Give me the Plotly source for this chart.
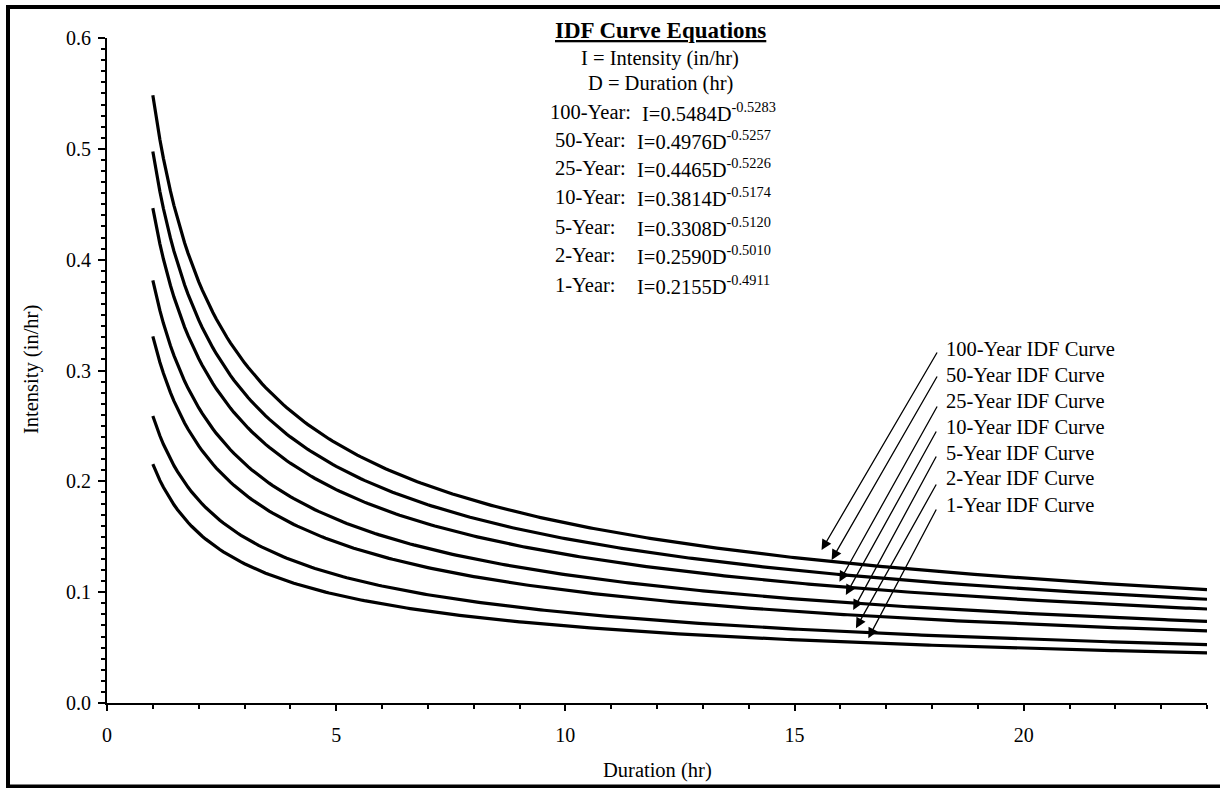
import numpy as np
import plotly.graph_objects as go

# Return periods and IDF equation coefficients (I = a * D^b), as printed on the chart
periods = ["100-Year", "50-Year", "25-Year", "10-Year", "5-Year", "2-Year", "1-Year"]
coef_a = [0.5484, 0.4976, 0.4465, 0.3814, 0.3308, 0.2590, 0.2155]
coef_b = [-0.5283, -0.5257, -0.5226, -0.5174, -0.5120, -0.5010, -0.4911]
coef_a_txt = ["0.5484", "0.4976", "0.4465", "0.3814", "0.3308", "0.2590", "0.2155"]
coef_b_txt = ["-0.5283", "-0.5257", "-0.5226", "-0.5174", "-0.5120", "-0.5010", "-0.4911"]

# Durations (hr) at which curves are evaluated
durations = np.linspace(1, 24, 300)

# Arrow tips (data coords)
tip_x = [15.59, 15.81, 15.98, 16.12, 16.28, 16.34, 16.61]
tip_y = [0.1380, 0.1290, 0.1095, 0.0974, 0.0839, 0.0674, 0.0584]
# Arrow tails (data coords)
tail_x = [18.13, 18.13, 18.13, 18.11, 18.11, 18.11, 18.11]
tail_y = [0.3176, 0.2959, 0.2689, 0.2463, 0.2238, 0.1985, 0.1759]
# Curve label positions (data coords)
lab_x = 18.26
lab_y = [0.3194, 0.2959, 0.2725, 0.2490, 0.2256, 0.2030, 0.1787]

FONT = "Liberation Serif"
TXT = 20.5
L, R, T, B = 107, 13, 38, 85
W, H = 1220, 788
PW, PH = W - L - R, H - T - B


def px2paper(px, py):
    return (px - L) / PW, (H - B - py) / PH


fig = go.Figure()
for p, a, b in zip(periods, coef_a, coef_b):
    fig.add_trace(go.Scatter(
        x=durations, y=a * durations ** b, mode="lines",
        line=dict(color="black", width=3.2), name=p + " IDF Curve",
        hoverinfo="x+y+name"))

annotations = []
for p, tx, ty, ax, ay, ly in zip(periods, tip_x, tip_y, tail_x, tail_y, lab_y):
    annotations.append(dict(
        x=tx, y=ty, ax=ax, ay=ay, xref="x", yref="y", axref="x", ayref="y",
        text="", showarrow=True, arrowhead=2, arrowsize=1.6, arrowwidth=1.3,
        arrowcolor="black", standoff=0))
    annotations.append(dict(
        x=lab_x, y=ly, xref="x", yref="y", text=p + " IDF Curve",
        showarrow=False, xanchor="left", yanchor="middle",
        font=dict(family=FONT, size=TXT, color="black")))

# Equation block
cx, _ = px2paper(660, 0)
for txt, py, fsz in [("<b><u>IDF Curve Equations</u></b>", 30, 23),
                     ("I = Intensity (in/hr)", 58, TXT),
                     ("D = Duration (hr)", 83, TXT)]:
    _, yy = px2paper(0, py)
    annotations.append(dict(x=cx, y=yy, xref="paper", yref="paper", text=txt,
                            showarrow=False, xanchor="center", yanchor="middle",
                            font=dict(family=FONT, size=fsz, color="black")))

row_py = [112, 140, 168, 197, 227, 255, 285]
for i, (p, at, bt, py) in enumerate(zip(periods, coef_a_txt, coef_b_txt, row_py)):
    lx, yy = px2paper(548 if i == 0 else 553, py)
    ex, _ = px2paper(640 if i == 0 else 635, py)
    annotations.append(dict(x=lx, y=yy, xref="paper", yref="paper", text=p + ":",
                            showarrow=False, xanchor="left", yanchor="middle",
                            font=dict(family=FONT, size=TXT, color="black")))
    annotations.append(dict(x=ex, y=yy, xref="paper", yref="paper",
                            text="I=" + at + "D<sup>" + bt + "</sup>",
                            showarrow=False, xanchor="left", yanchor="middle",
                            font=dict(family=FONT, size=TXT, color="black")))

# Axis titles
xx, yy = px2paper(32, 370)
annotations.append(dict(x=xx, y=yy, xref="paper", yref="paper", text="Intensity (in/hr)",
                        textangle=-90, showarrow=False, xanchor="center", yanchor="middle",
                        font=dict(family=FONT, size=TXT, color="black")))
xx, yy = px2paper(657, 771)
annotations.append(dict(x=xx, y=yy, xref="paper", yref="paper", text="Duration (hr)",
                        showarrow=False, xanchor="center", yanchor="middle",
                        font=dict(family=FONT, size=TXT, color="black")))

# Outer frame
fx0, fy0 = px2paper(8, 786.5)
fx1, fy1 = px2paper(1226, 7)
shapes = [dict(type="rect", xref="paper", yref="paper", x0=fx0, y0=fy0, x1=fx1, y1=fy1,
               line=dict(color="black", width=4), fillcolor="rgba(0,0,0,0)", layer="above")]

fig.update_layout(
    width=W, height=H,
    margin=dict(l=L, r=R, t=T, b=B, pad=0),
    paper_bgcolor="white", plot_bgcolor="white",
    showlegend=False,
    annotations=annotations, shapes=shapes,
    font=dict(family=FONT, size=TXT, color="black"),
    xaxis=dict(range=[0, 24], dtick=5, tick0=0, showgrid=False, zeroline=False,
               showline=True, linecolor="black", linewidth=2,
               ticks="outside", ticklen=6, tickwidth=2, tickcolor="black",
               ticklabelstandoff=7,
               minor=dict(dtick=1, ticks="outside", ticklen=4, tickwidth=1.5, tickcolor="black"),
               tickfont=dict(family=FONT, size=20, color="black")),
    yaxis=dict(range=[0, 0.6], dtick=0.1, tick0=0, tickformat=".1f", showgrid=False,
               zeroline=False, showline=True, linecolor="black", linewidth=2,
               ticks="outside", ticklen=7, tickwidth=2, tickcolor="black",
               ticklabelstandoff=3,
               minor=dict(dtick=0.01, ticks="outside", ticklen=4, tickwidth=1.5, tickcolor="black"),
               tickfont=dict(family=FONT, size=20, color="black")),
)

fig.write_html("out.html", config={"displayModeBar": False},
               post_script="document.body.style.margin='0';document.body.style.overflow='hidden';")
